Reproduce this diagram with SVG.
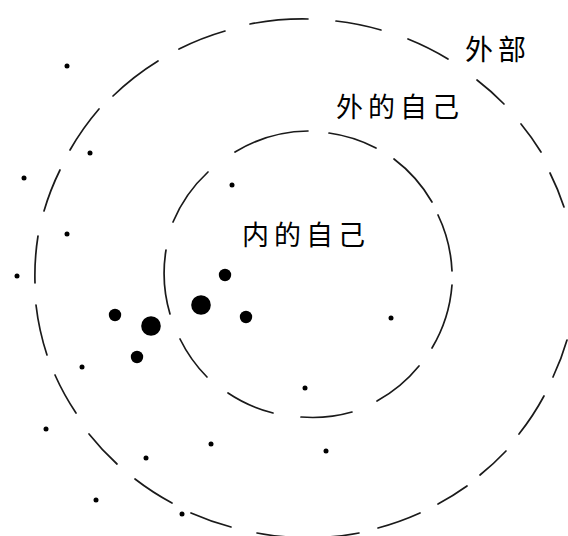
<svg xmlns="http://www.w3.org/2000/svg" width="568" height="536" viewBox="0 0 568 536">
<style>
.d{fill:none;stroke:#1a1a1a;stroke-width:1.7;stroke-linecap:round}
.s{fill:#000}
.t{font-family:"Noto Sans CJK SC","Noto Sans CJK JP",sans-serif;fill:#000}
</style>
<rect width="568" height="536" fill="#fff"/>
<g id="outer-ring">
<path class="d" d="M35,283 A268,259 0 0 1 38,236"/>
<path class="d" d="M44,211 A268,259 0 0 1 60,170"/>
<path class="d" d="M70,150 A268,259 0 0 1 99,109"/>
<path class="d" d="M113,96 A268,259 0 0 1 158,61"/>
<path class="d" d="M179,49 A268,259 0 0 1 225,31"/>
<path class="d" d="M250,24 A268,259 0 0 1 308,19"/>
<path class="d" d="M336,21 A268,259 0 0 1 381,30"/>
<path class="d" d="M408,39 A268,259 0 0 1 448,59"/>
<path class="d" d="M477,80 A268,259 0 0 1 504,104"/>
<path class="d" d="M521,124 A268,259 0 0 1 541,152"/>
<path class="d" d="M550,173 A268,259 0 0 1 564,207"/>
<path class="d" d="M567,340 A268,259 0 0 1 553,377"/>
<path class="d" d="M544,396 A268,259 0 0 1 519,434"/>
<path class="d" d="M506,451 A268,259 0 0 1 480,475"/>
<path class="d" d="M467,486 A268,259 0 0 1 438,504"/>
<path class="d" d="M420,513 A268,259 0 0 1 378,528"/>
<path class="d" d="M359,533 A268,259 0 0 1 257,533"/>
<path class="d" d="M231,527 A268,259 0 0 1 191,513"/>
<path class="d" d="M172,503 A268,259 0 0 1 135,479"/>
<path class="d" d="M117,464 A268,259 0 0 1 89,434"/>
<path class="d" d="M76,413 A268,259 0 0 1 55,375"/>
<path class="d" d="M47,355 A268,259 0 0 1 36,305"/>
</g>
<g id="inner-ring">
<path class="d" d="M235,152 A144,144 0 0 1 308,131"/>
<path class="d" d="M329,133 A144,144 0 0 1 376,148"/>
<path class="d" d="M394,159 A144,144 0 0 1 432,202"/>
<path class="d" d="M438,215 A144,144 0 0 1 452,271"/>
<path class="d" d="M452,285 A144,144 0 0 1 432,348"/>
<path class="d" d="M419,366 A144,144 0 0 1 377,401"/>
<path class="d" d="M352,412 A144,144 0 0 1 301,417"/>
<path class="d" d="M273,413 A144,144 0 0 1 228,393"/>
<path class="d" d="M207,377 A144,144 0 0 1 180,339"/>
<path class="d" d="M170,314 A144,144 0 0 1 166,250"/>
<path class="d" d="M173,222 A144,144 0 0 1 208,172"/>
</g>
<g id="small-dots">
<circle class="s" cx="67" cy="66" r="2.5"/>
<circle class="s" cx="90" cy="153" r="2.5"/>
<circle class="s" cx="24" cy="178" r="2.5"/>
<circle class="s" cx="232" cy="185" r="2.5"/>
<circle class="s" cx="67" cy="234" r="2.5"/>
<circle class="s" cx="17" cy="276" r="2.5"/>
<circle class="s" cx="82" cy="367" r="2.5"/>
<circle class="s" cx="46" cy="429" r="2.5"/>
<circle class="s" cx="211" cy="444" r="2.5"/>
<circle class="s" cx="146" cy="458" r="2.5"/>
<circle class="s" cx="96" cy="500" r="2.5"/>
<circle class="s" cx="182" cy="514" r="2.5"/>
<circle class="s" cx="391" cy="318" r="2.5"/>
<circle class="s" cx="305" cy="388" r="2.5"/>
<circle class="s" cx="326" cy="451" r="2.5"/>
</g>
<g id="large-dots">
<circle class="s" cx="225" cy="275" r="6.2"/>
<circle class="s" cx="201" cy="305" r="9.8"/>
<circle class="s" cx="246" cy="317" r="6.2"/>
<circle class="s" cx="115" cy="315" r="6.2"/>
<circle class="s" cx="151" cy="326" r="9.8"/>
<circle class="s" cx="137" cy="357" r="6.2"/>
</g>
<g id="labels">
<text class="t" x="465" y="60" font-size="28" letter-spacing="5">外部</text>
<text class="t" x="336" y="117" font-size="27" letter-spacing="5">外的自己</text>
<text class="t" x="242" y="245" font-size="27" letter-spacing="5">内的自己</text>
</g>
</svg>
